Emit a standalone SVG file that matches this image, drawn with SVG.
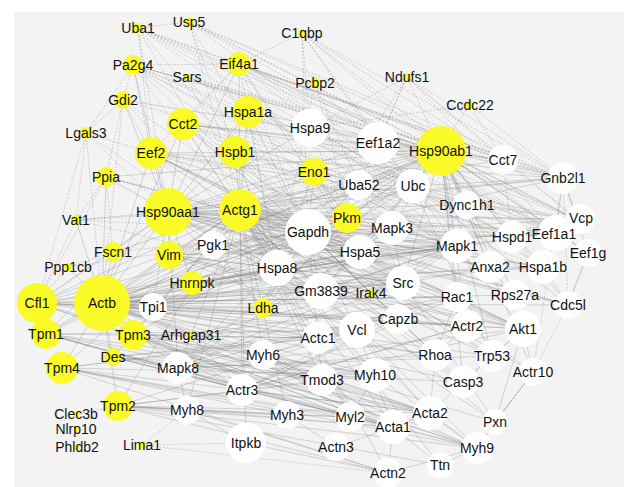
<svg xmlns="http://www.w3.org/2000/svg" width="624" height="487" viewBox="0 0 624 487">
<style>
.t{font-family:"Liberation Sans",Arial,sans-serif;font-size:14px;text-anchor:middle;fill:#111}
.y{fill:#fafa28}
.w{fill:#ffffff}
.e{fill:none;stroke:#777777;stroke-width:0.5;stroke-opacity:0.55}
.d{fill:none;stroke:#8a8a8a;stroke-width:0.6;stroke-opacity:0.6;stroke-dasharray:2 1.5}
</style>
<rect x="0" y="0" width="624" height="487" fill="#ffffff"/>
<rect x="14" y="12" width="610" height="475" fill="#f3f3f3"/>
<g id="connectors">
<path class="e" d="M102 303L37 303M102 303L46 334M102 303L133 335M102 303L62 368M102 303L118 406M102 303L113 357M102 303L113 252M102 303L169 255M102 303L168 212M102 303L240 210M102 303L308 232M102 303L277 268M102 303L360 252M102 303L457 246M102 303L392 228M102 303L403 283M102 303L523 329M102 303L457 297M102 303L435 355M102 303L467 326M102 303L242 390M102 303L357 330M102 303L318 338M102 303L477 448M102 303L393 427M102 303L430 413M102 303L398 319M102 303L495 422M102 303L106 177M102 303L151 153M102 303L183 124M102 303L441 151M102 303L556 232M102 303L578 220M102 303L543 267M102 303L490 267M102 303L375 375M102 303L322 380M102 303L263 355M102 303L178 368M102 303L347 218M102 303L314 172M102 303L263 308M102 303L321 291M102 303L153 307M102 303L213 245M102 303L192 283M102 303L463 382M102 303L492 356M102 303L68 267M102 303L76 220M102 303L568 305M102 303L515 295M102 303L413 186"/>
<path class="e" d="M168 212L441 151M168 212L151 153M168 212L183 124M168 212L248 112M168 212L235 152M168 212L240 210M168 212L308 232M168 212L277 268M168 212L360 252M168 212L310 128M168 212L378 143M168 212L359 185M168 212L413 186M168 212L457 246M168 212L392 228M168 212L403 283M168 212L523 329M168 212L512 237M168 212L543 267M168 212L568 305M168 212L556 232M168 212L578 220M168 212L563 178M168 212L503 160M168 212L467 205M168 212L347 218M168 212L314 172M168 212L169 255M168 212L113 252M168 212L106 177M168 212L123 100M168 212L133 65M168 212L239 64M168 212L46 334M168 212L37 303M168 212L192 283M168 212L457 297M168 212L490 267M168 212L492 356M168 212L463 382M168 212L515 295M168 212L213 245M168 212L153 307M168 212L263 308M168 212L76 220"/>
<path class="e" d="M240 210L441 151M240 210L308 232M240 210L347 218M240 210L314 172M240 210L277 268M240 210L360 252M240 210L457 246M240 210L392 228M240 210L403 283M240 210L523 329M240 210L457 297M240 210L435 355M240 210L467 326M240 210L242 390M240 210L357 330M240 210L318 338M240 210L398 319M240 210L477 448M240 210L393 427M240 210L430 413M240 210L495 422M240 210L375 375M240 210L322 380M240 210L263 355M240 210L37 303M240 210L46 334M240 210L133 335M240 210L62 368M240 210L118 406M240 210L113 357M240 210L169 255M240 210L556 232M240 210L490 267M240 210L543 267M240 210L413 186M240 210L359 185M240 210L151 153M240 210L183 124M240 210L235 152M240 210L248 112M240 210L239 64M240 210L563 178M240 210L568 305M240 210L578 220M240 210L388 473M240 210L440 465M240 210L350 417M240 210L287 415M240 210L246 443M240 210L187 410M240 210L178 368M240 210L463 382M240 210L492 356M240 210L533 372"/>
<path class="e" d="M441 151L503 160M441 151L563 178M441 151L578 220M441 151L556 232M441 151L588 253M441 151L512 237M441 151L457 246M441 151L392 228M441 151L403 283M441 151L523 329M441 151L413 186M441 151L359 185M441 151L308 232M441 151L277 268M441 151L360 252M441 151L310 128M441 151L378 143M441 151L314 172M441 151L347 218M441 151L239 64M441 151L248 112M441 151L235 152M441 151L183 124M441 151L151 153M441 151L133 65M441 151L467 205M441 151L490 267M441 151L543 267M441 151L515 295M441 151L568 305M441 151L492 356M441 151L463 382M441 151L457 297M441 151L169 255M441 151L46 334M441 151L37 303M441 151L106 177M441 151L123 100M441 151L192 283M441 151L533 372M441 151L467 326"/>
<path class="e" d="M308 232L347 218M308 232L314 172M308 232L277 268M308 232L360 252M308 232L457 246M308 232L392 228M308 232L403 283M308 232L523 329M308 232L413 186M308 232L359 185M308 232L512 237M308 232L556 232M308 232L578 220M308 232L563 178M308 232L543 267M308 232L490 267M308 232L457 297M308 232L435 355M308 232L463 382M308 232L492 356M308 232L263 308M308 232L213 245M308 232L153 307M308 232L169 255M308 232L192 283M308 232L37 303M308 232L133 335M308 232L151 153M308 232L183 124M308 232L235 152M308 232L248 112M308 232L106 177M308 232L321 291M308 232L357 330M308 232L318 338M308 232L398 319M308 232L568 305M308 232L515 295"/>
<path class="e" d="M457 246L392 228M457 246L403 283M457 246L523 329M392 228L403 283M403 283L523 329M523 329L492 356M523 329L463 382M523 329L457 297M457 297L435 355M435 355L467 326M467 326L242 390M467 326L533 372M492 356L463 382M492 356L413 186M413 186L359 185M413 186L515 295M515 295L359 185M413 186L457 246M413 186L543 267M413 186L512 237M413 186L578 220M413 186L556 232M413 186L563 178M413 186L568 305M578 220L556 232M556 232L588 253M588 253L563 178M563 178L578 220M563 178L556 232M568 305L543 267M568 305L588 253M512 237L543 267M512 237L556 232M490 267L543 267M490 267L403 283M523 329L533 372M523 329L495 422M533 372L495 422M495 422L477 448M477 448L440 465M477 448L430 413M477 448L388 473M495 422L403 283M495 422L357 330M357 330L393 427M357 330L430 413M357 330L318 338M357 330L398 319M393 427L388 473M393 427L336 447M393 427L350 417M393 427L440 465M430 413L393 427M318 338L263 355M318 338L322 380M318 338L350 417M375 375L350 417M375 375L477 448M287 415L350 417M287 415L187 410M287 415L336 447M246 443L388 473M246 443L187 410M347 218L314 172M347 218L263 308M347 218L457 246M314 172L360 252M314 172L457 246M277 268L360 252M277 268L403 283M277 268L457 246M277 268L523 329M277 268L413 186M360 252L403 283M360 252L457 246M321 291L277 268M321 291L403 283M321 291L457 246M321 291L523 329M321 291L240 210M178 368L457 246M178 368L392 228M178 368L523 329M178 368L403 283M178 368L492 356M178 368L463 382M46 334L477 448M133 335L375 375M62 368L430 413M46 334L357 330M133 335L318 338M113 357L357 330M113 357L393 427M113 357L477 448M37 303L467 326M37 303L457 297M37 303L398 319M37 303L477 448M37 303L523 329M133 335L477 448M46 334L350 417M62 368L287 415M118 406L393 427M118 406L350 417M118 406L388 473M187 410L388 473M62 368L388 473M46 334L393 427M118 406L440 465M118 406L477 448M62 368L477 448M118 406L187 410M187 410L393 427M118 406L287 415M133 335L242 390M133 335L263 355M46 334L242 390M190 335L242 390M190 335L403 283M190 335L457 297M190 335L102 303M371 293L403 283M371 293L457 246M371 293L308 232M263 308L153 307M263 308L213 245M213 245L153 307M242 390L263 355M242 390L398 319M242 390L457 297M263 355L375 375M263 355L393 427M322 380L393 427M322 380L430 413M178 368L242 390M178 368L187 410M435 355L430 413M463 382L430 413M398 319L467 326M398 319L435 355"/>
<path class="e" d="M169 255L457 246M169 255L403 283M169 255L523 329M169 255L556 232M169 255L360 252M169 255L277 268M169 255L357 330M169 255L467 326M169 255L398 319M192 283L457 246M192 283L403 283M192 283L360 252M192 283L556 232M192 283L543 267M192 283L277 268M153 307L360 252M153 307L457 246M153 307L403 283M153 307L277 268M213 245L360 252M213 245L457 246M213 245L403 283M213 245L277 268M37 303L403 283M37 303L360 252M37 303L457 246M37 303L357 330M37 303L435 355M37 303L430 413M37 303L393 427M46 334L430 413M46 334L375 375M46 334L318 338M46 334L322 380M133 335L357 330M133 335L430 413M133 335L393 427M133 335L350 417M133 335L322 380M62 368L357 330M62 368L375 375M62 368L318 338M62 368L393 427M62 368L350 417M113 357L430 413M113 357L375 375M113 357L318 338M113 357L350 417M113 357L322 380M118 406L430 413M118 406L375 375M118 406L357 330M118 406L322 380M178 368L457 297M178 368L435 355M178 368L441 151M178 368L308 232M178 368L168 212M263 355L357 330M263 355L322 380M263 355L350 417M263 355L430 413M263 355L477 448M242 390L467 326M242 390L357 330M242 390L523 329M242 390L430 413M321 291L168 212M321 291L102 303M321 291L441 151M321 291L413 186M321 291L360 252M263 308L360 252M263 308L457 246M263 308L314 172M263 308L403 283M151 153L578 220M151 153L563 178M151 153L457 246M151 153L403 283M151 153L360 252M151 153L523 329M183 124L503 160M183 124L563 178M183 124L512 237M183 124L360 252M239 64L578 220M239 64L563 178M239 64L503 160M239 64L360 252"/>
<path class="d" d="M138 28L189 22M138 28L151 153M138 28L168 212M138 28L413 186M138 28L277 268M189 22L441 151M189 22L413 186M189 22L308 232M189 22L240 210M133 65L123 100M133 65L86 133M133 65L308 232M133 65L151 153M133 65L277 268M133 65L457 246M133 65L347 218M133 65L359 185M123 100L86 133M123 100L151 153M123 100L308 232M123 100L277 268M123 100L102 303M123 100L106 177M123 100L413 186M187 77L277 268M187 77L556 232M187 77L308 232M187 77L441 151M302 33L239 64M302 33L310 128M302 33L441 151M302 33L378 143M302 33L413 186M239 64L308 232M239 64L277 268M239 64L347 218M239 64L457 246M239 64L556 232M239 64L151 153M239 64L133 65M239 64L183 124M239 64L413 186M315 83L277 268M315 83L413 186M315 83L360 252M315 83L359 185M407 77L308 232M407 77L310 128M407 77L378 143M407 77L359 185M407 77L503 160M470 105L503 160M470 105L310 128M470 105L413 186M470 105L563 178M86 133L102 303M86 133L37 303M86 133L277 268M86 133L76 220M86 133L151 153M86 133L168 212M106 177L76 220M106 177L37 303M106 177L113 252M106 177L308 232M106 177L240 210M76 220L277 268M76 220L308 232M76 220L37 303M76 220L240 210M113 252L240 210M113 252L37 303M113 252L308 232M68 267L37 303M68 267L308 232M68 267L240 210M142 445L246 443M142 445L388 473M142 445L187 410M76 414L118 406M183 124L308 232M183 124L413 186M183 124L277 268M183 124L457 246M151 153L277 268M151 153L413 186M151 153L556 232M248 112L413 186M248 112L360 252M248 112L277 268M248 112L512 237M235 152L413 186M235 152L360 252M235 152L277 268M235 152L543 267M310 128L360 252M310 128L413 186M310 128L512 237M378 143L556 232M378 143L578 220M378 143L413 186M503 160L563 178M503 160L512 237M503 160L578 220M467 205L457 246M467 205L578 220M467 205L403 283M359 185L457 246M359 185L403 283M359 185L277 268M138 28L563 178M138 28L556 232M138 28L578 220M138 28L503 160M138 28L441 151M138 28L308 232M138 28L457 246M189 22L563 178M189 22L578 220M189 22L556 232M189 22L503 160M189 22L277 268M302 33L563 178M302 33L556 232M302 33L503 160M302 33L308 232M407 77L563 178M407 77L556 232M407 77L441 151M407 77L578 220M133 65L441 151M133 65L556 232M133 65L563 178M133 65L413 186M187 77L413 186M187 77L563 178M563 178L568 305M563 178L533 372M588 253L568 305M568 305L533 372M533 372L495 422M533 372L477 448"/>
</g>
<g id="n-Hspa9"><circle class="w" cx="310" cy="128" r="19"/><text class="t" x="310" y="133">Hspa9</text></g>
<g id="n-Eef1a2"><circle class="w" cx="378" cy="143" r="21"/><text class="t" x="378" y="148">Eef1a2</text></g>
<g id="n-Cct7"><circle class="w" cx="503" cy="160" r="15"/><text class="t" x="503" y="165">Cct7</text></g>
<g id="n-Uba52"><circle class="w" cx="359" cy="185" r="15"/><text class="t" x="359" y="190">Uba52</text></g>
<g id="n-Ubc"><circle class="w" cx="413" cy="186" r="17"/><text class="t" x="413" y="191">Ubc</text></g>
<g id="n-Gnb2l1"><circle class="w" cx="563" cy="178" r="16"/><text class="t" x="563" y="183">Gnb2l1</text></g>
<g id="n-Dync1h1"><circle class="w" cx="467" cy="205" r="14"/><text class="t" x="467" y="210">Dync1h1</text></g>
<g id="n-Gapdh"><circle class="w" cx="308" cy="232" r="23"/><text class="t" x="308" y="237">Gapdh</text></g>
<g id="n-Mapk3"><circle class="w" cx="392" cy="228" r="17"/><text class="t" x="392" y="233">Mapk3</text></g>
<g id="n-Vcp"><circle class="w" cx="580" cy="219" r="15"/><text class="t" x="581" y="223">Vcp</text></g>
<g id="n-Eef1a1"><circle class="w" cx="556" cy="233" r="18"/><text class="t" x="554" y="239">Eef1a1</text></g>
<g id="n-Eef1g"><circle class="w" cx="588" cy="253" r="14"/><text class="t" x="588" y="258">Eef1g</text></g>
<g id="n-Hspd1"><circle class="w" cx="512" cy="237" r="16"/><text class="t" x="512" y="242">Hspd1</text></g>
<g id="n-Mapk1"><circle class="w" cx="457" cy="246" r="17"/><text class="t" x="457" y="251">Mapk1</text></g>
<g id="n-Pgk1"><circle class="w" cx="213" cy="245" r="14"/><text class="t" x="213" y="250">Pgk1</text></g>
<g id="n-Hspa5"><circle class="w" cx="360" cy="252" r="17"/><text class="t" x="360" y="257">Hspa5</text></g>
<g id="n-Hspa8"><circle class="w" cx="277" cy="268" r="18"/><text class="t" x="277" y="273">Hspa8</text></g>
<g id="n-Anxa2"><circle class="w" cx="490" cy="267" r="16"/><text class="t" x="490" y="272">Anxa2</text></g>
<g id="n-Hspa1b"><circle class="w" cx="543" cy="267" r="17"/><text class="t" x="543" y="272">Hspa1b</text></g>
<g id="n-Gm3839"><circle class="w" cx="321" cy="291" r="18"/><text class="t" x="321" y="296">Gm3839</text></g>
<g id="n-Src"><circle class="w" cx="403" cy="283" r="17"/><text class="t" x="403" y="288">Src</text></g>
<g id="n-Rac1"><circle class="w" cx="457" cy="297" r="15"/><text class="t" x="457" y="302">Rac1</text></g>
<g id="n-Rps27a"><circle class="w" cx="515" cy="295" r="15"/><text class="t" x="515" y="300">Rps27a</text></g>
<g id="n-Cdc5l"><circle class="w" cx="568" cy="305" r="14"/><text class="t" x="568" y="310">Cdc5l</text></g>
<g id="n-Tpi1"><circle class="w" cx="153" cy="307" r="14"/><text class="t" x="153" y="312">Tpi1</text></g>
<g id="n-Capzb"><circle class="w" cx="398" cy="319" r="15"/><text class="t" x="398" y="324">Capzb</text></g>
<g id="n-Actr2"><circle class="w" cx="467" cy="326" r="16"/><text class="t" x="467" y="331">Actr2</text></g>
<g id="n-Akt1"><circle class="w" cx="523" cy="329" r="18"/><text class="t" x="523" y="334">Akt1</text></g>
<g id="n-Vcl"><circle class="w" cx="357" cy="330" r="18"/><text class="t" x="357" y="335">Vcl</text></g>
<g id="n-Actc1"><circle class="w" cx="318" cy="338" r="16"/><text class="t" x="318" y="343">Actc1</text></g>
<g id="n-Myh6"><circle class="w" cx="263" cy="355" r="15"/><text class="t" x="263" y="360">Myh6</text></g>
<g id="n-Rhoa"><circle class="w" cx="435" cy="355" r="16"/><text class="t" x="435" y="360">Rhoa</text></g>
<g id="n-Trp53"><circle class="w" cx="492" cy="356" r="16"/><text class="t" x="492" y="361">Trp53</text></g>
<g id="n-Mapk8"><circle class="w" cx="178" cy="368" r="16"/><text class="t" x="178" y="373">Mapk8</text></g>
<g id="n-Actr10"><circle class="w" cx="533" cy="372" r="14"/><text class="t" x="533" y="377">Actr10</text></g>
<g id="n-Myh10"><circle class="w" cx="375" cy="375" r="17"/><text class="t" x="375" y="380">Myh10</text></g>
<g id="n-Tmod3"><circle class="w" cx="322" cy="380" r="16"/><text class="t" x="322" y="385">Tmod3</text></g>
<g id="n-Casp3"><circle class="w" cx="463" cy="382" r="16"/><text class="t" x="463" y="387">Casp3</text></g>
<g id="n-Actr3"><circle class="w" cx="242" cy="390" r="16"/><text class="t" x="242" y="395">Actr3</text></g>
<g id="n-Myh8"><circle class="w" cx="187" cy="410" r="14"/><text class="t" x="187" y="415">Myh8</text></g>
<g id="n-Myh3"><circle class="w" cx="287" cy="415" r="14"/><text class="t" x="287" y="420">Myh3</text></g>
<g id="n-Myl2"><circle class="w" cx="350" cy="417" r="15"/><text class="t" x="350" y="422">Myl2</text></g>
<g id="n-Acta2"><circle class="w" cx="430" cy="413" r="17"/><text class="t" x="430" y="418">Acta2</text></g>
<g id="n-Acta1"><circle class="w" cx="393" cy="427" r="17"/><text class="t" x="393" y="432">Acta1</text></g>
<g id="n-Pxn"><circle class="w" cx="495" cy="422" r="13"/><text class="t" x="495" y="427">Pxn</text></g>
<g id="n-Itpkb"><circle class="w" cx="246" cy="443" r="20"/><text class="t" x="246" y="448">Itpkb</text></g>
<g id="n-Actn3"><circle class="w" cx="336" cy="447" r="14"/><text class="t" x="336" y="452">Actn3</text></g>
<g id="n-Myh9"><circle class="w" cx="477" cy="448" r="16"/><text class="t" x="477" y="453">Myh9</text></g>
<g id="n-Ttn"><circle class="w" cx="440" cy="465" r="13"/><text class="t" x="440" y="470">Ttn</text></g>
<g id="n-Actn2"><circle class="w" cx="388" cy="473" r="15"/><text class="t" x="388" y="478">Actn2</text></g>
<g id="n-Uba1"><circle class="y" cx="138" cy="28" r="5"/><text class="t" x="138" y="33">Uba1</text></g>
<g id="n-Usp5"><circle class="y" cx="189" cy="22" r="5"/><text class="t" x="189" y="27">Usp5</text></g>
<g id="n-Pa2g4"><circle class="y" cx="133" cy="65" r="10"/><text class="t" x="133" y="70">Pa2g4</text></g>
<g id="n-Sars"><circle class="y" cx="187" cy="77" r="3"/><text class="t" x="187" y="82">Sars</text></g>
<g id="n-Gdi2"><circle class="y" cx="123" cy="100" r="9"/><text class="t" x="123" y="105">Gdi2</text></g>
<g id="n-Cct2"><circle class="y" cx="183" cy="124" r="16"/><text class="t" x="183" y="129">Cct2</text></g>
<g id="n-Lgals3"><circle class="y" cx="86" cy="133" r="6"/><text class="t" x="86" y="138">Lgals3</text></g>
<g id="n-Eef2"><circle class="y" cx="151" cy="153" r="16"/><text class="t" x="151" y="158">Eef2</text></g>
<g id="n-C1qbp"><circle class="y" cx="302" cy="33" r="4"/><text class="t" x="302" y="38">C1qbp</text></g>
<g id="n-Eif4a1"><circle class="y" cx="239" cy="64" r="12"/><text class="t" x="239" y="69">Eif4a1</text></g>
<g id="n-Pcbp2"><circle class="y" cx="315" cy="83" r="5"/><text class="t" x="315" y="88">Pcbp2</text></g>
<g id="n-Ndufs1"><circle class="y" cx="407" cy="77" r="4"/><text class="t" x="407" y="82">Ndufs1</text></g>
<g id="n-Hspa1a"><circle class="y" cx="248" cy="112" r="16"/><text class="t" x="248" y="117">Hspa1a</text></g>
<g id="n-Hspb1"><circle class="y" cx="235" cy="152" r="16"/><text class="t" x="235" y="157">Hspb1</text></g>
<g id="n-Ccdc22"><circle class="y" cx="470" cy="105" r="4"/><text class="t" x="470" y="110">Ccdc22</text></g>
<g id="n-Hsp90ab1"><circle class="y" cx="441" cy="151" r="25"/><text class="t" x="441" y="156">Hsp90ab1</text></g>
<g id="n-Ppia"><circle class="y" cx="106" cy="177" r="10"/><text class="t" x="106" y="182">Ppia</text></g>
<g id="n-Hsp90aa1"><circle class="y" cx="168" cy="212" r="24"/><text class="t" x="168" y="217">Hsp90aa1</text></g>
<g id="n-Vat1"><circle class="y" cx="76" cy="220" r="5"/><text class="t" x="76" y="225">Vat1</text></g>
<g id="n-Fscn1"><circle class="y" cx="113" cy="252" r="10"/><text class="t" x="113" y="257">Fscn1</text></g>
<g id="n-Vim"><circle class="y" cx="169" cy="255" r="14"/><text class="t" x="169" y="260">Vim</text></g>
<g id="n-Ppp1cb"><circle class="y" cx="68" cy="267" r="4"/><text class="t" x="68" y="272">Ppp1cb</text></g>
<g id="n-Hnrnpk"><circle class="y" cx="192" cy="283" r="12"/><text class="t" x="192" y="288">Hnrnpk</text></g>
<g id="n-Cfl1"><circle class="y" cx="37" cy="303" r="20"/><text class="t" x="37" y="308">Cfl1</text></g>
<g id="n-Actb"><circle class="y" cx="102" cy="303" r="28"/><text class="t" x="102" y="308">Actb</text></g>
<g id="n-Eno1"><circle class="y" cx="314" cy="172" r="14"/><text class="t" x="314" y="177">Eno1</text></g>
<g id="n-Actg1"><circle class="y" cx="240" cy="210" r="21"/><text class="t" x="240" y="215">Actg1</text></g>
<g id="n-Pkm"><circle class="y" cx="347" cy="218" r="15"/><text class="t" x="347" y="223">Pkm</text></g>
<g id="n-Irak4"><circle class="y" cx="371" cy="293" r="4"/><text class="t" x="371" y="298">Irak4</text></g>
<g id="n-Ldha"><circle class="y" cx="263" cy="308" r="10"/><text class="t" x="263" y="313">Ldha</text></g>
<g id="n-Tpm1"><circle class="y" cx="46" cy="334" r="15"/><text class="t" x="46" y="339">Tpm1</text></g>
<g id="n-Tpm3"><circle class="y" cx="133" cy="335" r="15"/><text class="t" x="133" y="340">Tpm3</text></g>
<g id="n-Arhgap31"><circle class="y" cx="190" cy="335" r="4"/><text class="t" x="191" y="340">Arhgap31</text></g>
<g id="n-Des"><circle class="y" cx="113" cy="357" r="9"/><text class="t" x="113" y="362">Des</text></g>
<g id="n-Tpm4"><circle class="y" cx="62" cy="368" r="16"/><text class="t" x="62" y="373">Tpm4</text></g>
<g id="n-Tpm2"><circle class="y" cx="118" cy="406" r="15"/><text class="t" x="118" y="411">Tpm2</text></g>
<g id="n-Clec3b"><circle class="y" cx="76" cy="414" r="3"/><text class="t" x="76" y="419">Clec3b</text></g>
<g id="n-Nlrp10"><circle class="y" cx="76" cy="429" r="3"/><text class="t" x="76" y="434">Nlrp10</text></g>
<g id="n-Phldb2"><circle class="y" cx="77" cy="447" r="3"/><text class="t" x="77" y="452">Phldb2</text></g>
<g id="n-Lima1"><circle class="y" cx="142" cy="445" r="4"/><text class="t" x="142" y="450">Lima1</text></g>
</svg>
